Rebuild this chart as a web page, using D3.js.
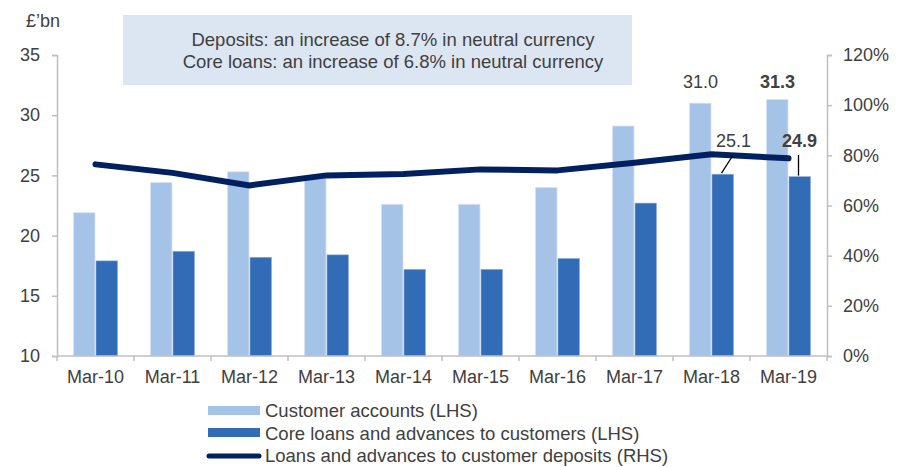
<!DOCTYPE html>
<html>
<head>
<meta charset="utf-8">
<script src="https://cdn.jsdelivr.net/npm/d3@7"></script>
<style>
  body { margin: 0; background: #fff; }
  text { font-family: "Liberation Sans", Arial, sans-serif; fill: #404040; }
</style>
</head>
<body>
<svg id="chart" width="911" height="467"></svg>
<script>
var years = ['Mar-10', 'Mar-11', 'Mar-12', 'Mar-13', 'Mar-14', 'Mar-15', 'Mar-16', 'Mar-17', 'Mar-18', 'Mar-19'];
var customerAccounts = [21.9, 24.4, 25.3, 24.8, 22.6, 22.6, 24.0, 29.1, 31.0, 31.3];
var coreLoans = [17.9, 18.7, 18.2, 18.4, 17.2, 17.2, 18.1, 22.7, 25.1, 24.9];
var loanDepositRatio = [76.4, 73.0, 68.0, 72.0, 72.6, 74.4, 74.0, 77.0, 80.4, 78.8];
var leftTicks = [10, 15, 20, 25, 30, 35];
var rightTicks = [0, 20, 40, 60, 80, 100, 120];
var legendItems = ['Customer accounts (LHS)', 'Core loans and advances to customers (LHS)', 'Loans and advances to customer deposits (RHS)'];
var noteLines = ['Deposits: an increase of 8.7% in neutral currency', 'Core loans: an increase of 6.8% in neutral currency'];

var lightBlue = '#A5C2E7', midBlue = '#336CB6', navy = '#002060', axisGrey = '#BFBFBF';

var svg = d3.select('#chart');
var plotLeft = 57, plotRight = 827, plotTop = 55, plotBottom = 356;

var x = d3.scaleBand().domain(years).range([plotLeft, plotRight]);
var yL = d3.scaleLinear().domain([10, 35]).range([plotBottom, plotTop]);
var yR = d3.scaleLinear().domain([0, 120]).range([plotBottom, plotTop]);

// note box
svg.append('rect')
  .attr('x', 123).attr('y', 15).attr('width', 509).attr('height', 70)
  .attr('fill', '#DCE6F2');
svg.selectAll('.note').data(noteLines).enter().append('text')
  .attr('x', 393).attr('y', function(d, i){ return 46 + i * 22; })
  .attr('text-anchor', 'middle').style('font-size', '18.5px')
  .text(function(d){ return d; });

svg.append('text').attr('x', 26).attr('y', 27).style('font-size', '18px').text('£’bn');

// bars
var bw = 21.5;
svg.selectAll('.ca').data(customerAccounts).enter().append('rect')
  .attr('x', function(d, i){ return x(years[i]) + x.bandwidth() / 2 - bw - 0.5; })
  .attr('y', function(d){ return yL(d); })
  .attr('width', bw)
  .attr('height', function(d){ return plotBottom - yL(d); })
  .attr('fill', lightBlue).attr('stroke', '#D6E3F3').attr('stroke-width', 0.8);
svg.selectAll('.cl').data(coreLoans).enter().append('rect')
  .attr('x', function(d, i){ return x(years[i]) + x.bandwidth() / 2 + 0.5; })
  .attr('y', function(d){ return yL(d); })
  .attr('width', bw)
  .attr('height', function(d){ return plotBottom - yL(d); })
  .attr('fill', midBlue).attr('stroke', '#8FB0DA').attr('stroke-width', 0.6);

// axes
var axL = svg.append('g').attr('transform', 'translate(' + plotLeft + ',0)')
  .call(d3.axisLeft(yL).tickValues(leftTicks).tickSize(5).tickPadding(12));
var axR = svg.append('g').attr('transform', 'translate(' + plotRight + ',0)')
  .call(d3.axisRight(yR).tickValues(rightTicks).tickSize(5).tickPadding(11)
    .tickFormat(function(d){ return d + '%'; }));
var axB = svg.append('g').attr('transform', 'translate(0,' + plotBottom + ')')
  .call(d3.axisBottom(x).tickSize(5).tickPadding(9));
axB.selectAll('.tick line').attr('transform', 'translate(' + (-x.bandwidth() / 2) + ',0)');
axB.append('line').attr('class', 'endtick').attr('x1', plotRight).attr('x2', plotRight).attr('y1', 0).attr('y2', 5);
[axL, axR, axB].forEach(function(a){
  a.select('.domain').attr('stroke', axisGrey).attr('stroke-width', 1.5);
  a.selectAll('line').attr('stroke', axisGrey).attr('stroke-width', 1.5);
  a.selectAll('text').attr('fill', '#404040').style('font-size', '18px')
    .style('font-family', '"Liberation Sans", Arial, sans-serif');
});
axB.select('.domain').attr('d', 'M' + plotLeft + ',0H' + plotRight);

// ratio line
var line = d3.line()
  .x(function(d, i){ return x(years[i]) + x.bandwidth() / 2; })
  .y(function(d){ return yR(d); });
svg.append('path').datum(loanDepositRatio)
  .attr('d', line).attr('fill', 'none')
  .attr('stroke', navy).attr('stroke-width', 6)
  .attr('stroke-linecap', 'round').attr('stroke-linejoin', 'round');

// data labels
var c18 = x('Mar-18') + x.bandwidth() / 2, c19 = x('Mar-19') + x.bandwidth() / 2;
svg.append('text').attr('x', c18 - 11).attr('y', 88).attr('text-anchor', 'middle')
  .style('font-size', '18px').text(customerAccounts[8].toFixed(1));
svg.append('text').attr('x', c19 - 11).attr('y', 88).attr('text-anchor', 'middle')
  .style('font-size', '18px').style('font-weight', 'bold').text(customerAccounts[9].toFixed(1));
svg.append('text').attr('x', c18 + 22).attr('y', 147).attr('text-anchor', 'middle')
  .style('font-size', '18px').text(coreLoans[8].toFixed(1));
svg.append('text').attr('x', c19 + 11).attr('y', 147).attr('text-anchor', 'middle')
  .style('font-size', '18px').style('font-weight', 'bold').text(coreLoans[9].toFixed(1));
svg.append('line').attr('x1', c18 + 21).attr('y1', 156).attr('x2', c18 + 10).attr('y2', yL(coreLoans[8]) - 1)
  .attr('stroke', '#000').attr('stroke-width', 1.3);
svg.append('line').attr('x1', c19 + 10).attr('y1', 155).attr('x2', c19 + 10).attr('y2', yL(coreLoans[9]) - 1)
  .attr('stroke', '#000').attr('stroke-width', 1.3);

// legend
var lg = svg.append('g').attr('transform', 'translate(208,411)');
lg.append('rect').attr('x', 0).attr('y', -5).attr('width', 52).attr('height', 9).attr('fill', lightBlue);
lg.append('rect').attr('x', 0).attr('y', 17).attr('width', 52).attr('height', 9).attr('fill', midBlue);
lg.append('line').attr('x1', 1).attr('x2', 51).attr('y1', 45).attr('y2', 45)
  .attr('stroke', navy).attr('stroke-width', 5).attr('stroke-linecap', 'round');
lg.selectAll('.lt').data(legendItems).enter().append('text')
  .attr('x', 57).attr('y', function(d, i){ return i * 22.5 + 6; })
  .style('font-size', '18.5px')
  .text(function(d){ return d; });
</script>
</body>
</html>
